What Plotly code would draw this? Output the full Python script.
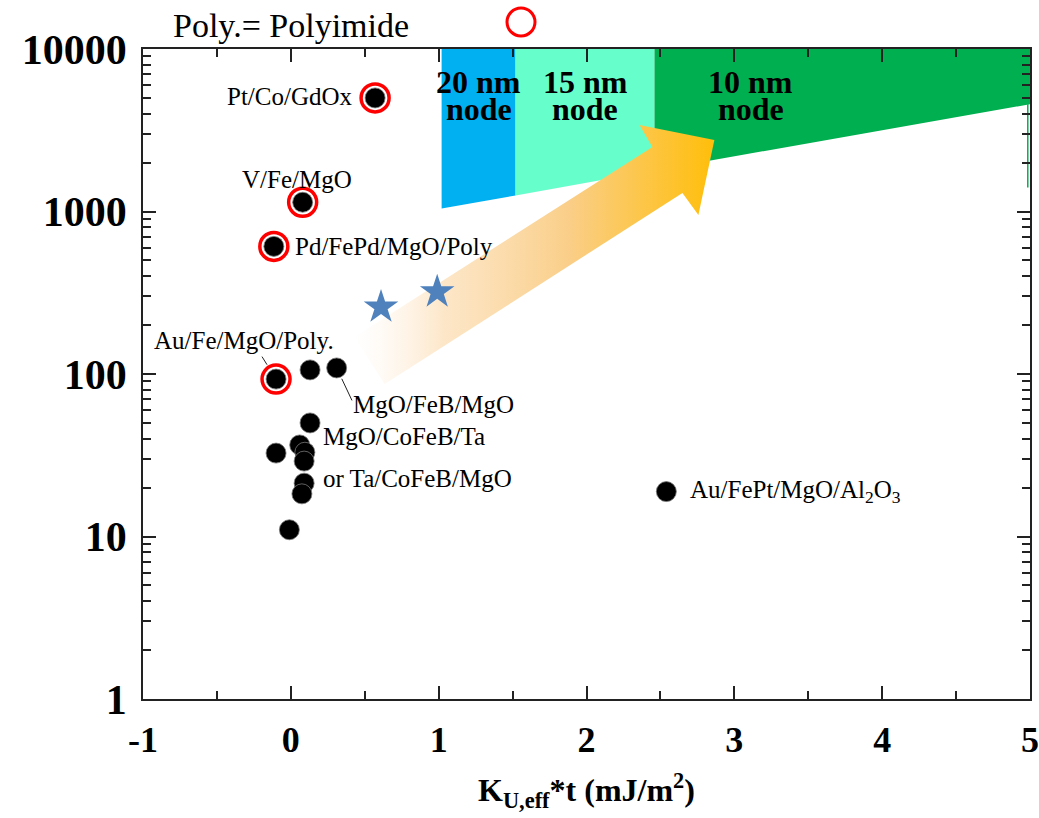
import numpy as np
import plotly.graph_objects as go

# ---- measured films (black dots) ----
film_x = [0.13, 0.31, 0.13, -0.10, 0.06, 0.095, 0.09, 0.09, 0.075, -0.01, 2.54]
film_y = [106, 109, 50, 32.6, 36.6, 33, 29.1, 21.3, 18.3, 11.0, 18.9]

# films marked with a red ring
ring_names = ["Pt/Co/GdOx", "V/Fe/MgO", "Pd/FePd/MgO/Poly", "Au/Fe/MgO/Poly."]
ring_x = [0.57, 0.08, -0.115, -0.10]
ring_y = [5000, 1140, 610, 93]

# blue stars
star_x = [0.61, 0.99]
star_y = [258, 320]

# technology-node regions: x edges and lower boundary values
node_names = ["20 nm", "15 nm", "10 nm"]
node_colors = ["#00B0F0", "#66FFCC", "#00B050"]
node_x_edges = [1.02, 1.52, 2.46, 5.0]
node_y_floor = [1043, 1254, 1790, 4570]
node_label_x = [1.27, 1.99, 3.11]
y_top = 10000

# trend arrow outline (data units)
arrow_x = [0.43, 2.446, 2.358, 2.865, 2.757, 2.649, 0.635]
arrow_y = [169, 2495, 3405, 2754, 950, 1300, 86.7]

x_ticks = [-1, 0, 1, 2, 3, 4, 5]
y_ticks = [1, 10, 100, 1000, 10000]

SERIF = "Liberation Serif, Times New Roman, serif"

fig = go.Figure()

# node regions
for i in range(3):
    x0, x1 = node_x_edges[i], node_x_edges[i + 1]
    y0, y1 = node_y_floor[i], node_y_floor[i + 1]
    fig.add_trace(go.Scatter(
        x=[x0, x1, x1, x0, x0], y=[y0, y1, y_top, y_top, y0],
        fill="toself", fillcolor=node_colors[i], mode="lines",
        line=dict(width=0), hoverinfo="skip", showlegend=False))

# thin edge line at right border of the 10 nm region
fig.add_trace(go.Scatter(
    x=[4.985, 4.985], y=[node_y_floor[-1], 1406], mode="lines",
    line=dict(color="#00B050", width=1.5), hoverinfo="skip", showlegend=False))

# gradient arrow
fig.add_trace(go.Scatter(
    x=arrow_x + [arrow_x[0]], y=arrow_y + [arrow_y[0]],
    fill="toself", mode="lines", line=dict(width=0),
    fillgradient=dict(
        type="horizontal",
        colorscale=[[0, "rgba(255,240,225,0)"],
                    [0.25, "rgba(252,224,186,0.8)"],
                    [0.6, "rgb(250,206,135)"],
                    [1, "rgb(255,190,10)"]]),
    hoverinfo="skip", showlegend=False))

# red rings
fig.add_trace(go.Scatter(
    x=ring_x, y=ring_y, mode="markers",
    marker=dict(symbol="circle-open", size=28, color="#FF0000",
                line=dict(width=3.5, color="#FF0000")),
    showlegend=False, hoverinfo="skip"))

# black dots
fig.add_trace(go.Scatter(
    x=film_x + ring_x, y=film_y + ring_y, mode="markers",
    marker=dict(symbol="circle", size=20, color="#000000",
                line=dict(width=0.8, color="#777777")),
    showlegend=False))

# stars
fig.add_trace(go.Scatter(
    x=star_x, y=star_y, mode="markers",
    marker=dict(symbol="star", size=26, color="#4F81BD", line=dict(width=0)),
    showlegend=False))

lab_font = dict(family=SERIF, size=25, color="#000000")
ly = np.log10


def label(text, x, y, xs, ys, anchor="left"):
    fig.add_annotation(x=x, y=ly(y), xref="x", yref="y", text=text,
                       showarrow=False, xanchor=anchor, yanchor="middle",
                       xshift=xs, yshift=ys, font=lab_font)


label(ring_names[0], ring_x[0], ring_y[0], -20, 1, "right")
label(ring_names[1], ring_x[1], ring_y[1], -6, 23, "center")
label(ring_names[2], ring_x[2], ring_y[2], 19, 0)
label(ring_names[3], ring_x[3], ring_y[3], -124, 39)
label("MgO/FeB/MgO", film_x[1], film_y[1], 14, -37)
label("MgO/CoFeB/Ta", film_x[2], film_y[2], 11, -14)
label("or Ta/CoFeB/MgO", film_x[7], film_y[7], 17, 5)
label("Au/FePt/MgO/Al<sub>2</sub>O<sub>3</sub>", film_x[10], film_y[10], 22, 0)

# leader lines
fig.add_annotation(x=film_x[1], y=ly(film_y[1]), xref="x", yref="y", text="",
                   showarrow=True, arrowhead=0, arrowwidth=1, arrowcolor="#222222",
                   ax=16, ay=34, standoff=12)
fig.add_annotation(x=ring_x[3], y=ly(ring_y[3]), xref="x", yref="y", text="",
                   showarrow=True, arrowhead=0, arrowwidth=1, arrowcolor="#222222",
                   ax=-15, ay=-24, standoff=17)

# node labels
node_font = dict(family=SERIF, size=32, color="#000000", weight="bold")
for i in range(3):
    fig.add_annotation(x=node_label_x[i], y=(699 - 82) / 650, xref="x", yref="paper",
                       text=node_names[i], showarrow=False, yanchor="middle",
                       font=node_font)
    fig.add_annotation(x=node_label_x[i], y=(699 - 109) / 650, xref="x", yref="paper",
                       text="node", showarrow=False, yanchor="middle",
                       font=node_font)

# key at top
fig.add_annotation(x=(171 - 143) / 887, y=(699 - 25) / 650, xref="paper", yref="paper",
                   text="Poly.= Polyimide", showarrow=False, xanchor="left",
                   yanchor="middle", font=dict(family=SERIF, size=34, color="#000000"))
fig.add_shape(type="circle", xref="paper", yref="paper",
              xsizemode="pixel", ysizemode="pixel",
              xanchor=(521 - 143) / 887, yanchor=(699 - 22) / 650,
              x0=-14, x1=14, y0=-14, y1=14,
              line=dict(color="#FF0000", width=3))

minor_y = [m * 10 ** d for d in range(4) for m in range(2, 10)]

fig.update_xaxes(
    range=[-1, 5], tickvals=x_ticks, ticktext=[str(v) for v in x_ticks],
    showline=True, linecolor="#222222", linewidth=1.6, mirror="ticks",
    ticks="inside", ticklen=13, tickwidth=1.5, tickcolor="#222222",
    minor=dict(ticks="inside", dtick=0.5, ticklen=8, tickwidth=1.5, tickcolor="#222222"),
    showgrid=False, zeroline=False, automargin=False,
    tickfont=dict(family=SERIF, size=36, color="#000000", weight="bold"),
    ticklabelstandoff=8,
    title=dict(text="K<sub>U,eff</sub>*t (mJ/m<sup>2</sup>)",
               font=dict(family=SERIF, size=32, color="#000000", weight="bold"),
               standoff=20))
fig.update_yaxes(
    type="log", range=[0, 4], tickvals=y_ticks, ticktext=[str(v) for v in y_ticks],
    showline=True, linecolor="#222222", linewidth=1.6, mirror="ticks",
    ticks="inside", ticklen=13, tickwidth=1.5, tickcolor="#222222",
    minor=dict(ticks="inside", tickvals=minor_y, ticklen=8, tickwidth=1.5,
               tickcolor="#222222"),
    showgrid=False, zeroline=False, automargin=False,
    tickfont=dict(family=SERIF, size=42, color="#000000", weight="bold"),
    ticklabelstandoff=6)

fig.update_layout(
    width=1039, height=818,
    margin=dict(l=143, r=9, t=49, b=119),
    plot_bgcolor="white", paper_bgcolor="white",
    showlegend=False)

fig.write_html("out.html")
